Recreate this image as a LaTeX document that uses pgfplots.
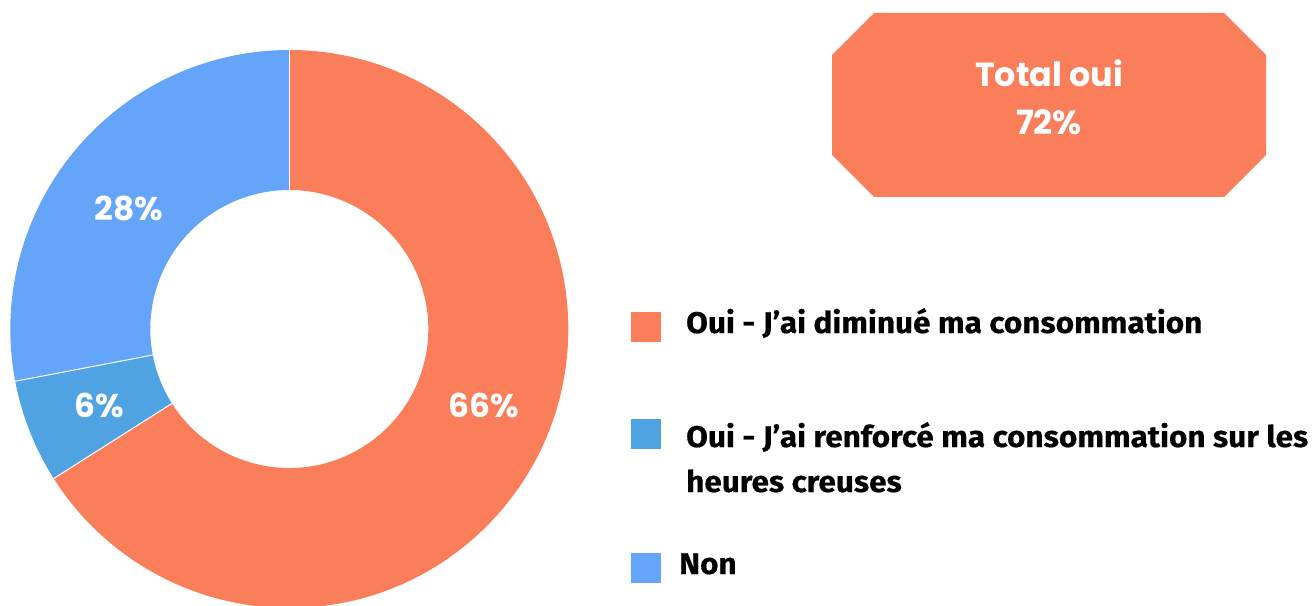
\documentclass[border=0pt]{standalone}
\usepackage{pgfplots}
\pgfplotsset{compat=1.18}
\usetikzlibrary{calc}
\usepackage{fontspec}
\setmainfont{Fira Sans}
\newfontfamily\legfont{Fira Sans}[FakeStretch=1.055,FakeBold=0.4]
\newfontfamily\popfont{Poppins}
\definecolor{cOrange}{HTML}{FA7E5A}
\definecolor{cBlueDark}{HTML}{4FA3E3}
\definecolor{cBlue}{HTML}{64A5F9}
% shares (percent), clockwise from 12 o'clock
\def\vA{66}\def\vB{6}\def\vC{28}
\pgfmathsetmacro\aS{90}
\pgfmathsetmacro\aA{90-\vA*3.6}
\pgfmathsetmacro\aB{\aA-\vB*3.6}
\pgfmathsetmacro\aC{\aB-\vC*3.6}
\newcommand\slice[3]{%
  \fill[#3] ($(axis cs:289.3,277)+(#1:279bp)$) arc[start angle=#1,end angle=#2,radius=279bp]
    -- ($(axis cs:289.3,277)+(#2:139bp)$) arc[start angle=#2,end angle=#1,radius=139bp] -- cycle;}
\newcommand\sep[1]{%
  \draw[white,line width=1bp] ($(axis cs:289.3,277)+(#1:138bp)$) -- ($(axis cs:289.3,277)+(#1:280bp)$);}
\begin{document}
\begin{tikzpicture}
\begin{axis}[x=1bp,y=1bp,xmin=0,xmax=1312,ymin=0,ymax=606,hide axis,clip=false,
  anchor=south west,at={(0,0)}]
\slice{\aS}{\aA}{cOrange}
\slice{\aA}{\aB}{cBlueDark}
\slice{\aB}{\aC}{cBlue}
\sep{\aS}\sep{\aA}\sep{\aB}
\node[white,anchor=base,font=\popfont\bfseries\fontsize{33}{38}\selectfont] at (axis cs:484,189) {66\%};
\node[white,anchor=base,font=\popfont\bfseries\fontsize{33}{38}\selectfont] at (axis cs:99,189) {6\%};
\node[white,anchor=base,font=\popfont\bfseries\fontsize{33}{38}\selectfont] at (axis cs:129,386) {28\%};
% total box
\fill[cOrange] (axis cs:874,593) -- (axis cs:1224,593) -- (axis cs:1266,551) -- (axis cs:1266,451)
  -- (axis cs:1224,409) -- (axis cs:874,409) -- (axis cs:832,451) -- (axis cs:832,551) -- cycle;
\node[white,anchor=base,font=\popfont\bfseries\fontsize{33.5}{40}\selectfont] at (axis cs:1049,519) {Total oui};
\node[white,anchor=base,font=\popfont\bfseries\fontsize{33.5}{40}\selectfont] at (axis cs:1049,471) {72\%};
% legend
\fill[cOrange] (axis cs:631,264) rectangle (axis cs:661,294);
\fill[cBlueDark] (axis cs:631,157) rectangle (axis cs:661,187);
\fill[cBlue] (axis cs:631,23) rectangle (axis cs:661,53);
\node[anchor=base west,inner sep=0pt,font=\legfont\bfseries\fontsize{30}{36}\selectfont] at (axis cs:686,273) {Oui - J’ai diminué ma consommation};
\node[anchor=base west,inner sep=0pt,font=\legfont\bfseries\fontsize{30}{36}\selectfont] at (axis cs:686,159) {Oui - J’ai renforcé ma consommation sur les};
\node[anchor=base west,inner sep=0pt,font=\legfont\bfseries\fontsize{30}{36}\selectfont] at (axis cs:686,114) {heures creuses};
\node[anchor=base west,inner sep=0pt,font=\legfont\bfseries\fontsize{30}{36}\selectfont] at (axis cs:679,32) {Non};
\end{axis}
\pgfresetboundingbox
\path[use as bounding box] (0,0) rectangle (1312bp,606bp);
\end{tikzpicture}
\end{document}
